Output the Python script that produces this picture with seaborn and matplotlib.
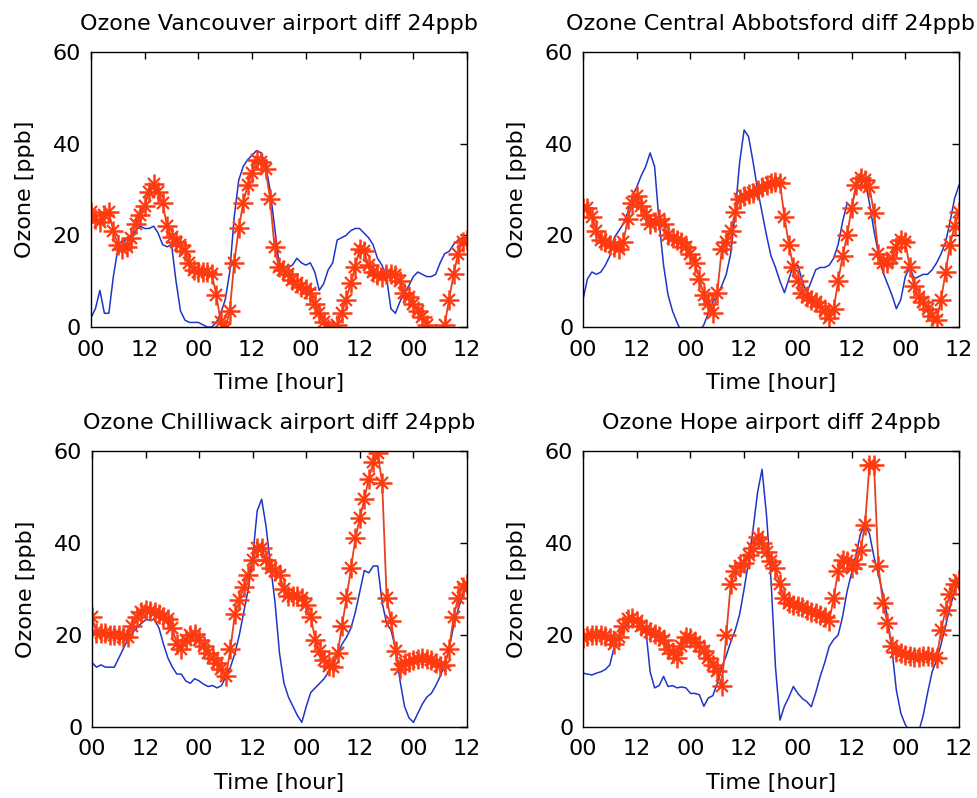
import numpy as np
import pandas as pd
import seaborn as sns
import matplotlib
matplotlib.use('Agg')
import matplotlib.pyplot as plt

# hourly values, hour 0 .. 84
hours = list(range(85))
tick_hours = [0, 12, 24, 36, 48, 60, 72, 84]
tick_labels = ['00', '12', '00', '12', '00', '12', '00', '12']

van_obs = [2, 4, 8, 3, 3, 11, 17, 18, 19.5, 20,
           21, 22, 21.5, 21.5, 22, 20.5, 18, 17.5, 18, 10,
           3.5, 1.5, 1, 1, 1, 0.5, 0, 0, 1, 3,
           6, 12, 24, 32, 35, 36.5, 37.5, 38.5, 38, 35.5,
           30, 22, 14, 13, 13, 13.5, 15, 14, 13.5, 14,
           12, 8, 9.5, 12.5, 14, 19, 19.5, 20, 21, 21.5,
           21.5, 20.5, 19.5, 18, 15, 13.5, 11, 4, 3, 5.5,
           7.5, 9, 11, 12, 11.5, 11, 11, 11.5, 14, 16,
           16.5, 18, 19, 19.5, 19.5]
van_mod = [25, 23.5, 23, 24.5, 25, 21, 18, 17, 17.5, 19.5,
           22.5, 24.5, 26.5, 29.5, 31.3, 29.5, 27, 22, 19.7, 18.6,
           17.8, 16.5, 14, 12.5, 12, 12, 12, 11.5, 7, 1,
           -0.5, 3.5, 14, 21.5, 27, 31, 33.5, 36.5, 36, 34.5,
           28, 17.5, 13, 12.5, 11.5, 10.3, 9.5, 8.8, 8.4, 7.5,
           5, 3, 1.2, -0.5, -2, 0.5, 3, 6, 9.5, 13,
           17, 16.5, 13.5, 12, 11.3, 11, 11.5, 11.5, 11.3, 10,
           7.5, 6.5, 5, 3.5, 2.2, 0.5, -2, -4, -3, 0.5,
           6, 11.5, 16, 18.6, 19]

ab_obs = [6, 10.5, 12, 11.5, 12, 13.5, 15.5, 19.5, 21, 22.5,
          25, 28.5, 30.5, 33, 35, 38, 35, 23, 13.5, 7,
          3.5, 1, -1, -1, -1, -1, -1, 0.5, 3, 5.5,
          7, 9, 11.5, 16, 25, 36, 43, 41.5, 36, 30,
          25, 20, 15.5, 13, 10, 7.5, 10.5, 13.5, 13.5, 10,
          7.5, 10, 12.5, 13, 13, 13.5, 15, 18, 23, 27,
          26, 30.5, 33.5, 32, 27, 21, 16, 12, 9.5, 7,
          4, 6, 11, 13, 10.5, 11, 11.5, 11.5, 12.5, 14,
          16, 18.5, 23, 28, 31]
ab_mod = [26, 26, 24, 21, 19, 18.5, 18, 17.5, 17, 18.5,
          23.5, 27, 28.5, 26.5, 24.5, 22.5, 23, 23.5, 22.5, 20,
          19.5, 19, 18.5, 17.5, 16, 14, 10.5, 7, 5, 3,
          7.5, 17, 18.5, 21, 25, 28, 28.5, 29, 29.3, 30,
          30.5, 31, 31.5, 31.7, 31.5, 24, 18, 13, 10, 7.5,
          6.5, 6, 5.5, 4.5, 3.5, 2, 4, 10, 15.5, 20,
          26, 31, 32.5, 32, 30.6, 24.8, 16, 14, 14, 15,
          17.5, 19, 18.5, 13, 9, 6.5, 5.5, 4, 2.5, 1.5,
          6, 12, 18, 22, 25]

chi_obs = [14, 13, 13.5, 13, 13, 13, 15, 17, 19, 20.5,
           21.5, 22.5, 23.3, 23.3, 23.3, 21.5, 18, 15, 13, 11.5,
           11.5, 10, 9.5, 10.5, 10, 9.3, 8.8, 9, 8.5, 9,
           11, 13, 16, 20, 25, 30, 37, 47, 49.5, 43.5,
           35, 27, 16, 9.5, 6.5, 4.5, 2.5, 1, 4.5, 7.5,
           8.5, 9.5, 10.5, 12, 14, 15.5, 18, 19.5, 21.5, 25,
           29.5, 34, 33.5, 35, 35, 27, 22.5, 21, 17, 10,
           4.5, 2, 1, 3, 5, 6.5, 7.3, 9, 11, 13.5,
           17, 22, 25.5, 28.5, 30.5]
chi_mod = [24, 20.5, 20.5, 20.5, 20, 20, 20, 19.5, 19.5, 22,
           24, 25, 25.5, 25.3, 25, 24.5, 24, 23.5, 21.5, 18,
           17, 19, 20, 20.3, 19, 17.5, 16, 15, 14, 12.5,
           11, 17, 24.5, 27.5, 30.5, 33, 36.3, 39, 39, 36.3,
           34.5, 34, 33, 30, 28.5, 28.5, 28.5, 28, 26.5, 24,
           19, 16.5, 14.5, 13.3, 13, 16, 22, 28, 34.5, 41,
           45.5, 49.5, 54, 57.5, 59.5, 53, 28, 23, 16.5, 12.5,
           14, 14.2, 14.5, 14.8, 15, 14.8, 14.5, 14, 13.3, 13.5,
           17, 24, 28, 30.5, 31]

hope_obs = [11.7, 11.5, 11.3, 11.7, 12, 12.5, 13.5, 17.5, 19.5, 21,
            22.5, 23.3, 23, 22.5, 21.5, 12, 8.5, 9, 11, 8.8,
            9, 8.5, 8.7, 8.5, 7.3, 7.3, 7, 4.5, 6.3, 6.8,
            9.5, 13, 15.5, 18.5, 21, 24.5, 30, 36, 43, 51,
            56, 46, 32, 13, 1.5, 4.5, 6.5, 8.8, 7.3, 6.2,
            5.5, 4.4, 7.5, 11, 14, 17.5, 19, 20, 24, 29.5,
            33.5, 37.5, 42, 44, 42, 37, 33, 29, 24, 17,
            8, 3, 0.5, -1, -1, -1, 2.5, 7.5, 12, 14.5,
            18, 22, 26, 29.5, 32]
hope_mod = [19.3, 19.8, 20, 20, 20, 19.8, 19.3, 18, 19.5, 22,
            23.5, 23.6, 23, 22, 21.2, 20.7, 20.3, 19.8, 19, 17,
            16, 15, 17.5, 19.5, 19.3, 18.5, 17.5, 16.5, 15, 13.5,
            12.2, 9, 20, 31, 34, 35, 35.6, 37.3, 39, 41.3,
            40, 38, 36, 34.5, 31, 28, 27, 26.5, 26.2, 26,
            25.5, 25.1, 24.8, 24.4, 24, 23, 28, 34, 36.3, 36,
            34.5, 35.5, 38.5, 44, 57, 57, 35, 27, 22.5, 17.5,
            16.4, 16, 15.7, 15.4, 15.3, 15.3, 15.5, 15.5, 15.3, 15,
            21, 25.5, 29, 31, 32]

titles = ['Ozone Vancouver airport diff 24ppb',
          'Ozone Central Abbotsford diff 24ppb',
          'Ozone Chilliwack airport diff 24ppb',
          'Ozone Hope airport diff 24ppb']
obs_list = [van_obs, ab_obs, chi_obs, hope_obs]
mod_list = [van_mod, ab_mod, chi_mod, hope_mod]

sns.set_style('white')
plt.rcParams['font.family'] = ['DejaVu Sans']
plt.rcParams['text.color'] = 'black'
plt.rcParams['axes.labelcolor'] = 'black'

fig = plt.figure(figsize=(9.77, 7.98), dpi=100)
positions = [[0.0931, 0.5902, 0.3849, 0.3446],
             [0.5967, 0.5902, 0.3849, 0.3446],
             [0.0942, 0.0890, 0.3838, 0.3459],
             [0.5967, 0.0890, 0.3849, 0.3459]]

for pos, title, obs, mod in zip(positions, titles, obs_list, mod_list):
    ax = fig.add_axes(pos)
    df = pd.DataFrame({'hour': hours, 'obs': obs, 'mod': mod})
    sns.lineplot(data=df, x='hour', y='obs', ax=ax, color='#1f35c8',
                 linewidth=1.1)
    # red line with MATLAB-like '*' markers (plus + small cross)
    sns.lineplot(data=df, x='hour', y='mod', ax=ax, color='#e8401c',
                 linewidth=1.3, marker='+', markersize=15,
                 markeredgewidth=1.8, markeredgecolor='#ff3a10')
    sns.lineplot(data=df, x='hour', y='mod', ax=ax, linestyle='none',
                 marker='x', markersize=8, markeredgewidth=1.6,
                 markeredgecolor='#ff3a10')
    ax.set_xlim(0, 84)
    ax.set_ylim(0, 60)
    ax.set_xticks(tick_hours)
    ax.set_xticklabels(tick_labels)
    ax.set_yticks([0, 20, 40, 60])
    ax.tick_params(direction='in', top=True, right=True, length=5,
                   width=1, labelsize=16, colors='black')
    ax.tick_params(axis='x', pad=9)
    ax.tick_params(axis='y', pad=7)
    for sp in ax.spines.values():
        sp.set_color('black')
        sp.set_linewidth(1)
    ax.set_title(title, fontsize=16, pad=16, color='black')
    ax.set_xlabel('Time [hour]', fontsize=16, labelpad=10)
    ax.set_ylabel('Ozone [ppb]', fontsize=16, labelpad=13)

fig.savefig('out.png', dpi=100, facecolor='white')
